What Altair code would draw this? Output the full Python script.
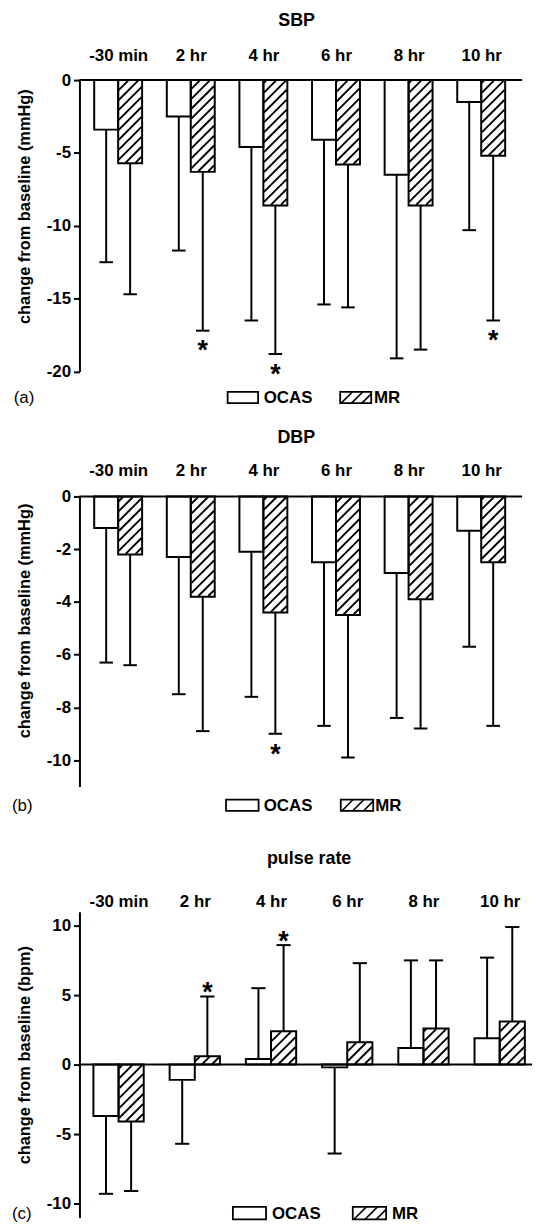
import json
import altair as alt
import pandas as pd

# ---------------- data ----------------
categories = ["-30 min", "2 hr", "4 hr", "6 hr", "8 hr", "10 hr"]
groups = ["OCAS", "MR"]

sbp_ocas = [-3.4, -2.5, -4.6, -4.1, -6.5, -1.5]
sbp_ocas_sd = [9.1, 9.2, 11.9, 11.3, 12.6, 8.8]
sbp_mr = [-5.7, -6.3, -8.6, -5.8, -8.6, -5.2]
sbp_mr_sd = [9.0, 10.9, 10.2, 9.8, 9.9, 11.3]
sbp_mr_star = [False, True, True, False, False, True]

dbp_ocas = [-1.2, -2.3, -2.1, -2.5, -2.9, -1.3]
dbp_ocas_sd = [5.1, 5.2, 5.5, 6.2, 5.5, 4.4]
dbp_mr = [-2.2, -3.8, -4.4, -4.5, -3.9, -2.5]
dbp_mr_sd = [4.2, 5.1, 4.6, 5.4, 4.9, 6.2]
dbp_mr_star = [False, False, True, False, False, False]

pr_ocas = [-3.7, -1.1, 0.4, -0.2, 1.2, 1.9]
pr_ocas_sd = [5.6, 4.6, 5.1, 6.2, 6.3, 5.8]
pr_mr = [-4.1, 0.6, 2.4, 1.6, 2.6, 3.1]
pr_mr_sd = [5.0, 4.3, 6.2, 5.7, 4.9, 6.8]
pr_mr_star = [False, True, True, False, False, False]

# ---------------- styling ----------------
FONT = "Liberation Sans"
BW = 0.33          # bar width in category units
CAP = 0.093        # half cap width in category units
LW = 2


def build_table(ocas, ocas_sd, mr, mr_sd, mr_star):
    rows = []
    for i, cat in enumerate(categories):
        rows.append(dict(i=i, cat=cat, group=groups[0], value=ocas[i], sd=ocas_sd[i], star=False))
        rows.append(dict(i=i, cat=cat, group=groups[1], value=mr[i], sd=mr_sd[i], star=mr_star[i]))
    return pd.DataFrame(rows)


def hatch_table(values, xdom, W, ydom, H, spacing=10.0, inset=0.6):
    """Diagonal hatch segments (a fill style) clipped to each MR bar."""
    sx = W / (xdom[1] - xdom[0])
    sy = H / (ydom[1] - ydom[0])
    rows = []
    for i, v in enumerate(values):
        bw = BW * sx
        bh = abs(v) * sy
        umin, umax = inset, bw - inset
        tmin, tmax = inset, bh - inset
        if tmax - tmin < 1:
            continue
        lower = min(v, 0.0)
        k = -int(bw // spacing) - 1
        while k * spacing < tmax:
            c = k * spacing + 3.0
            ua = max(umin, tmin - c)
            ub = min(umax, tmax - c)
            if ub - ua > 0.8:
                rows.append(dict(hx=i + ua / sx, hy=lower + (ua + c) / sy,
                                 hx2=i + ub / sx, hy2=lower + (ub + c) / sy))
            k += 1
    return pd.DataFrame(rows)


def one():
    return alt.Data(values=[{"k": 0}])


def panel(df, hatch, title, ytitle, ydom, yticks, W, H, xdom, lab_pad, tpos, title_y, leg, tag):
    xscale = alt.Scale(domain=xdom, nice=False, zero=False)
    yscale = alt.Scale(domain=ydom, nice=False, zero=False)
    label_expr = json.dumps(categories) + "[datum.value]"
    xaxis = alt.Axis(orient="top", values=list(range(len(categories))), labelExpr=label_expr,
                     ticks=False, tickSize=0, domain=False, grid=False, labelPadding=lab_pad,
                     labelFont=FONT, labelFontSize=17, labelFontWeight="bold", labelColor="black",
                     labelBaseline="alphabetic", labelFlush=False, labelOverlap=False, title=None)
    yaxis = alt.Axis(values=yticks, title=ytitle, labelExpr="'' + datum.value",
                     titleFont=FONT, titleFontSize=16.5, titleFontWeight="bold", titleColor="black",
                     titleX=-55, titleY=title_y, titleAngle=270, titleBaseline="middle", titleAlign="center",
                     labelFont=FONT, labelFontSize=17, labelFontWeight="bold", labelColor="black",
                     labelPadding=3, labelFlush=False, labelOverlap=False,
                     tickSize=6, tickWidth=LW, tickColor="black",
                     domainColor="black", domainWidth=LW, grid=False)

    def X(f):
        return alt.X(f, scale=xscale, axis=xaxis, title=None)

    def Y(f):
        return alt.Y(f, scale=yscale, axis=yaxis, title=ytitle)

    base = alt.Chart(df).transform_calculate(
        x0=f"datum.i + (datum.group == 'OCAS' ? {-BW} : 0)",
        x1=f"datum.i + (datum.group == 'OCAS' ? 0 : {BW})",
        xc=f"datum.i + (datum.group == 'OCAS' ? {-BW / 2} : {BW / 2})",
        end="datum.value + (datum.value < 0 ? -datum.sd : datum.sd)",
        zero="0",
    )

    bars = base.mark_rect(fill="white", strokeWidth=0).encode(
        x=X("x0:Q"), x2="x1:Q", y=Y("value:Q"), y2="zero:Q")
    hatch_l = alt.Chart(hatch).mark_rule(color="black", strokeWidth=1.9).encode(
        x=X("hx:Q"), x2="hx2:Q", y=Y("hy:Q"), y2="hy2:Q")
    outline = base.mark_rect(fillOpacity=0, stroke="black", strokeWidth=LW).encode(
        x=X("x0:Q"), x2="x1:Q", y=Y("value:Q"), y2="zero:Q")
    err = base.mark_rule(color="black", strokeWidth=LW).encode(
        x=X("xc:Q"), y=Y("value:Q"), y2="end:Q")
    cap = base.transform_calculate(ca=f"datum.xc - {CAP}", cb=f"datum.xc + {CAP}").mark_rule(
        color="black", strokeWidth=LW).encode(x=X("ca:Q"), x2="cb:Q", y=Y("end:Q"))
    star_kw = dict(text="*", font=FONT, fontSize=27, fontWeight="bold", color="black",
                   align="center", baseline="alphabetic")
    star_neg = base.transform_filter("datum.star && datum.end < 0").mark_text(dy=29, **star_kw).encode(
        x=X("xc:Q"), y=Y("end:Q"))
    star_pos = base.transform_filter("datum.star && datum.end > 0").mark_text(dy=5, **star_kw).encode(
        x=X("xc:Q"), y=Y("end:Q"))
    zero_line = alt.Chart(one()).mark_rule(color="black", strokeWidth=LW).encode(
        y=alt.datum(0), x=alt.value(0), x2=alt.value(W))

    ttl = alt.Chart(one()).mark_text(text=title, font=FONT, fontSize=18, fontWeight="bold",
                                     color="black", align="center", baseline="middle").encode(
        x=alt.value(tpos[0]), y=alt.value(tpos[1]))

    # legend (decoration, pixel placed)
    cy = leg["cy"]
    bh = leg["bh"]
    y1, y2 = cy - bh / 2, cy + bh / 2
    legend_layers = []
    for (bx1, bx2) in (leg["ocas_box"], leg["mr_box"]):
        legend_layers.append(alt.Chart(one()).mark_rect(fill="white", stroke="black", strokeWidth=1.8).encode(
            x=alt.value(bx1), x2=alt.value(bx2), y=alt.value(y1), y2=alt.value(y2)))
    mx1, mx2 = leg["mr_box"]
    step = (mx2 - mx1) / 3.0
    for j in range(3):
        xa = mx1 + j * step + 1.0
        xb = min(xa + bh, mx2)
        legend_layers.append(alt.Chart(one()).mark_rule(color="black", strokeWidth=1.6).encode(
            x=alt.value(xa), x2=alt.value(xb), y=alt.value(y2), y2=alt.value(y2 - (xb - xa))))
    for key, txt, wt in (("ocas_text", groups[0], "bold"), ("mr_text", groups[1], "bold"), ("tag_x", tag, "normal")):
        legend_layers.append(alt.Chart(one()).mark_text(text=txt, font=FONT, fontSize=17, fontWeight=wt,
                                                        color="black", align="left", baseline="middle").encode(
            x=alt.value(leg[key]), y=alt.value(cy + 1)))

    return alt.layer(bars, hatch_l, outline, err, cap, star_neg, star_pos, zero_line, ttl,
                     *legend_layers).properties(width=W, height=H)


XDOM_AB = [-0.533, 5.563]
XDOM_C = [-0.513, 5.424]
W_AB, W_C = 446, 456
H_A, H_B, H_C = 293.6, 292.3, 308.0

pa = panel(build_table(sbp_ocas, sbp_ocas_sd, sbp_mr, sbp_mr_sd, sbp_mr_star),
           hatch_table(sbp_mr, XDOM_AB, W_AB, [-20, 0], H_A),
           "SBP", "change from baseline (mmHg)", [-20, 0], [0, -5, -10, -15, -20],
           W_AB, H_A, XDOM_AB, 20, (218.8, -59.4), 127,
           dict(cy=H_A + 26.2, bh=11.5, ocas_box=(149.3, 180.0), ocas_text=185.7,
                mr_box=(262.7, 294.0), mr_text=296.7, tag_x=-66.2), "(a)")

pb = panel(build_table(dbp_ocas, dbp_ocas_sd, dbp_mr, dbp_mr_sd, dbp_mr_star),
           hatch_table(dbp_mr, XDOM_AB, W_AB, [-11, 0], H_B),
           "DBP", "change from baseline (mmHg)", [-11, 0], [0, -2, -4, -6, -8, -10],
           W_AB, H_B, XDOM_AB, 20.6, (218.5, -59.3), 125,
           dict(cy=H_B + 18.9, bh=11.5, ocas_box=(147.7, 180.5), ocas_text=185.7,
                mr_box=(263.3, 296.0), mr_text=298.0, tag_x=-68), "(b)")

pc = panel(build_table(pr_ocas, pr_ocas_sd, pr_mr, pr_mr_sd, pr_mr_star),
           hatch_table(pr_mr, XDOM_C, W_C, [-11, 11], H_C),
           "pulse rate", "change from baseline (bpm)", [-11, 11], [10, 5, 0, -5, -10],
           W_C, H_C, XDOM_C, 5, (231.4, -52.7), 144,
           dict(cy=H_C - 4.3, bh=12.7, ocas_box=(154.6, 188.0), ocas_text=194.0,
                mr_box=(275.4, 309.0), mr_text=315.0, tag_x=-68), "(c)")

chart = alt.vconcat(pa, pb, pc, spacing=125.5, bounds="flush").properties(
    padding={"left": 4, "top": -1, "right": 0, "bottom": 0}, background="white"
).configure_view(stroke=None)

chart.save("out.html", embed_options={"renderer": "svg", "actions": False})
